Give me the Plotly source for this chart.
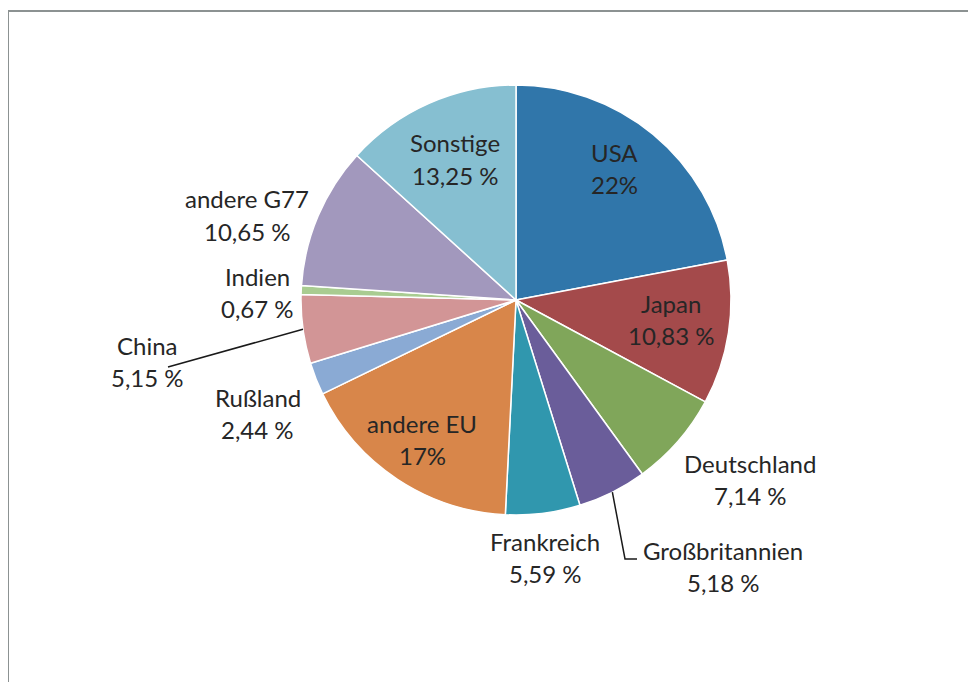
import math
import plotly.graph_objects as go

# ---- data ----
labels = ["USA", "Japan", "Deutschland", "Großbritannien", "Frankreich", "andere EU",
          "Rußland", "China", "Indien", "andere G77", "Sonstige"]
values = [22, 10.83, 7.14, 5.18, 5.59, 17, 2.44, 5.15, 0.67, 10.65, 13.25]
value_text = ["22%", "10,83 %", "7,14 %", "5,18 %", "5,59 %", "17%", "2,44 %",
              "5,15 %", "0,67 %", "10,65 %", "13,25 %"]

# ---- style / layout ----
colors = ["#3076AA", "#A44A4B", "#80A65A", "#6A5D9A", "#3097AE", "#D8864A",
          "#8AAAD4", "#D29596", "#A9CC91", "#A298BD", "#86BFD1"]
OFF = 8                      # page body margin
PAGE_W, PAGE_H = 976, 682
W, H = PAGE_W - OFF, PAGE_H - OFF
CX, CY, R = 516, 300, 215
# label line centres in page pixels (name line; value line is LINE_GAP below)
label_pos = {
    "USA": (614, 152), "Japan": (671, 303), "Deutschland": (750, 463),
    "Großbritannien": (723, 550), "Frankreich": (545, 541), "andere EU": (422, 423),
    "Rußland": (258, 397), "China": (147, 345), "Indien": (257, 276),
    "andere G77": (247, 199), "Sonstige": (455, 143),
}
LINE_GAP = 32
FONT = dict(family="Lato, Carlito, Calibri, sans-serif", size=24, color="#262626")


def px(x):
    return (x - OFF) / W


def py(y):
    return 1 - (y - OFF) / H


fig = go.Figure(go.Pie(
    labels=labels, values=values, sort=False, direction="clockwise", rotation=0,
    marker=dict(colors=colors, line=dict(color="white", width=1.5)),
    textinfo="none", hoverinfo="label+percent", showlegend=False,
    domain=dict(x=[px(CX - R), px(CX + R)], y=[py(CY + R), py(CY - R)]),
))

annotations = []
for lab, vt in zip(labels, value_text):
    x, y = label_pos[lab]
    annotations.append(dict(x=px(x), y=py(y), xref="paper", yref="paper", text=lab,
                            showarrow=False, xanchor="center", yanchor="middle", font=FONT))
    annotations.append(dict(x=px(x), y=py(y + LINE_GAP), xref="paper", yref="paper", text=vt,
                            showarrow=False, xanchor="center", yanchor="middle", font=FONT))


def mid_edge(name):
    i = labels.index(name)
    total = sum(values)
    start = sum(values[:i])
    ang = (start + values[i] / 2) / total * 2 * math.pi
    return CX + R * math.sin(ang), CY - R * math.cos(ang)


shapes = []
# frame
frame = dict(color="#8C9292", width=2)
shapes.append(dict(type="line", xref="paper", yref="paper", x0=px(7), y0=py(11), x1=px(PAGE_W), y1=py(11), line=frame))
shapes.append(dict(type="line", xref="paper", yref="paper", x0=px(8), y0=py(11), x1=px(8), y1=py(PAGE_H), line=frame))
# leader lines
lead = dict(color="#1a1a1a", width=1.5)
sx, sy = mid_edge("China")
shapes.append(dict(type="line", xref="paper", yref="paper", x0=px(sx), y0=py(sy), x1=px(168), y1=py(367), line=lead))
sx, sy = mid_edge("Großbritannien")
shapes.append(dict(type="path", xref="paper", yref="paper",
                   path=f"M {px(sx)},{py(sy)} L {px(625)},{py(559)} L {px(637)},{py(559)}",
                   line=lead))

fig.update_layout(width=W, height=H, margin=dict(l=0, r=0, t=0, b=0),
                  paper_bgcolor="white", plot_bgcolor="white",
                  annotations=annotations, shapes=shapes)
fig.write_html("out.html")
